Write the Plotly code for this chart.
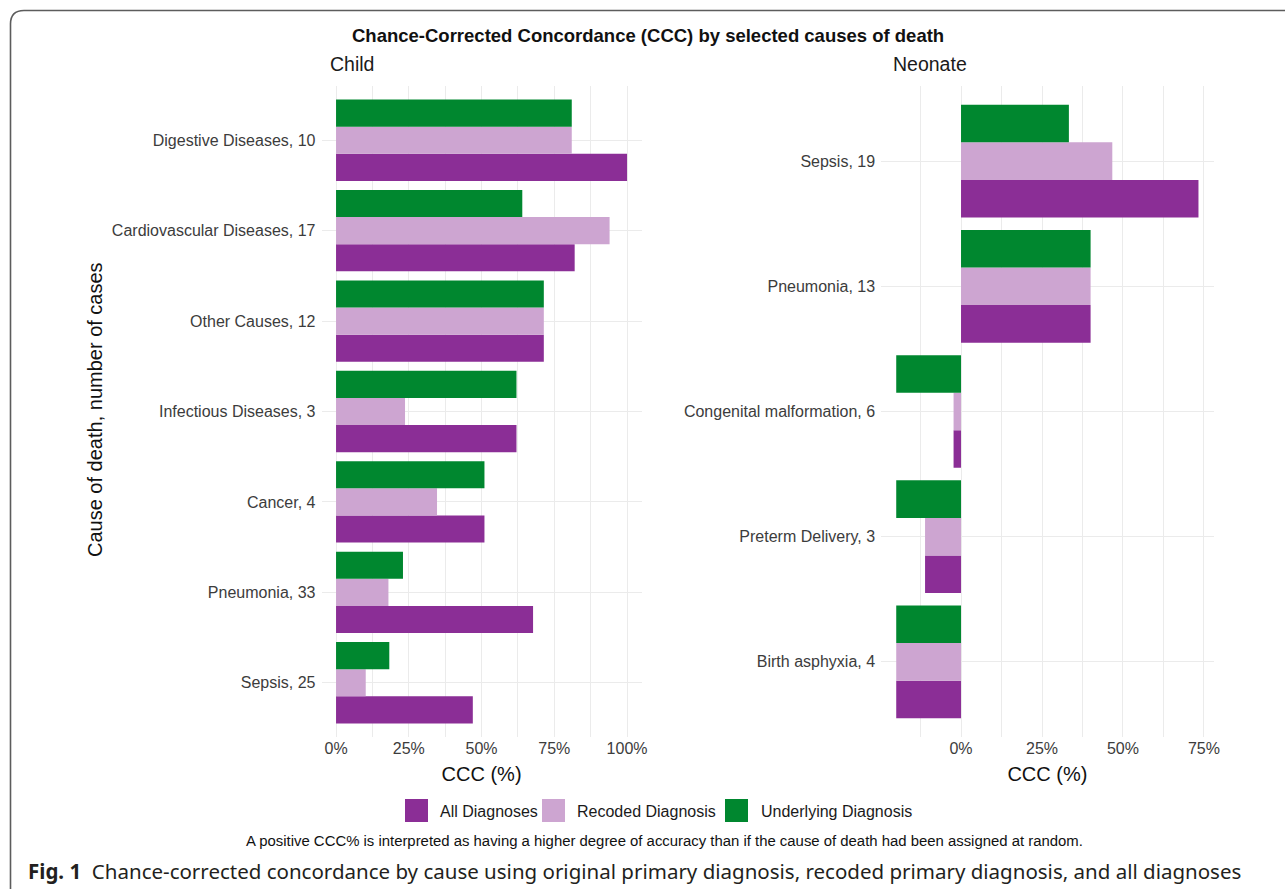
import plotly.graph_objects as go

W, H = 1285, 889

# ---------------- data ----------------
child_causes = ["Digestive Diseases, 10", "Cardiovascular Diseases, 17", "Other Causes, 12",
                "Infectious Diseases, 3", "Cancer, 4", "Pneumonia, 33", "Sepsis, 25"]
child_all = [100, 82, 71.4, 62, 51, 67.7, 47]
child_recoded = [81, 94, 71.4, 23.7, 34.7, 18, 10.2]
child_underlying = [81, 64, 71.4, 62, 51, 23, 18.3]

neo_causes = ["Sepsis, 19", "Pneumonia, 13", "Congenital malformation, 6",
              "Preterm Delivery, 3", "Birth asphyxia, 4"]
neo_all = [73.3, 40, -2.3, -11.1, -20]
neo_recoded = [46.7, 40, -2.3, -11.1, -20]
neo_underlying = [33.3, 40, -20, -20, -20]

series_names = ["All Diagnoses", "Recoded Diagnosis", "Underlying Diagnosis"]
series_colors = ["#8B2E96", "#CDA5D1", "#00872F"]

child_ticks = [0, 25, 50, 75, 100]
neo_ticks = [0, 25, 50, 75]

# ---------------- helpers ----------------
def px(x):
    return x / W

def py(y):
    return 1 - y / H

fig = go.Figure()

child_series = [child_all, child_recoded, child_underlying]
neo_series = [neo_all, neo_recoded, neo_underlying]
for name, col, vals in zip(series_names, series_colors, child_series):
    fig.add_trace(go.Bar(x=vals, y=child_causes, orientation="h", name=name,
                         marker=dict(color=col, line=dict(width=0)),
                         xaxis="x", yaxis="y", showlegend=False))
for name, col, vals in zip(series_names, series_colors, neo_series):
    fig.add_trace(go.Bar(x=vals, y=neo_causes, orientation="h", name=name,
                         marker=dict(color=col, line=dict(width=0)),
                         xaxis="x2", yaxis="y2", showlegend=False))

grid = "#EBEBEB"
tickfont = dict(family="Liberation Sans, Arial, sans-serif", size=16, color="#3c3c3c")
titlefont = dict(family="Liberation Sans, Arial, sans-serif", size=20, color="#111111")
ydom = [py(737), py(86)]

def xaxis_cfg(domain, rng, ticks, anchor):
    return dict(domain=domain, range=rng, anchor=anchor,
                tickmode="array", tickvals=ticks, ticktext=[f"{t}%" for t in ticks],
                showgrid=True, gridcolor=grid, gridwidth=1.4, zeroline=False,
                showline=False, ticks="", tickfont=tickfont, automargin=False,
                minor=dict(tickmode="linear", tick0=0, dtick=12.5, showgrid=True,
                           gridcolor=grid, gridwidth=1.4, ticks=""),
                title=dict(text="CCC (%)", font=titlefont, standoff=10))

def yaxis_cfg(cats, anchor):
    n = len(cats)
    return dict(domain=ydom, anchor=anchor, type="category",
                categoryorder="array", categoryarray=list(reversed(cats)),
                range=[-0.6, n - 0.4], showgrid=True, gridcolor=grid, gridwidth=1.4,
                zeroline=False, showline=False, ticks="", tickfont=tickfont,
                automargin=False, ticklabelstandoff=5)

fig.update_layout(
    width=W, height=H,
    margin=dict(l=0, r=0, t=0, b=0),
    paper_bgcolor="white", plot_bgcolor="white",
    barmode="group", bargap=0.1, bargroupgap=0,
    xaxis=xaxis_cfg([px(321.5), px(641.6)], [-5, 105], child_ticks, "y"),
    yaxis=yaxis_cfg(child_causes, "x"),
    xaxis2=xaxis_cfg([px(881.1), px(1213.7)], [-24.67, 78.0], neo_ticks, "y2"),
    yaxis2=yaxis_cfg(neo_causes, "x2"),
    showlegend=False,
)

ann = []
ann.append(dict(text="<b>Chance-Corrected Concordance (CCC) by selected causes of death</b>",
                x=px(648), y=py(35), xref="paper", yref="paper", showarrow=False,
                xanchor="center", yanchor="middle",
                font=dict(family="Liberation Sans, Arial, sans-serif", size=18.5, color="#111111")))
for label, xp in [("Child", 328), ("Neonate", 891)]:
    ann.append(dict(text=label, x=px(xp), y=py(64), xref="paper", yref="paper",
                    showarrow=False, xanchor="left", yanchor="middle",
                    font=dict(family="Liberation Sans, Arial, sans-serif", size=19.5, color="#1a1a1a")))
ann.append(dict(text="Cause of death, number of cases", x=px(95), y=py(410),
                xref="paper", yref="paper", showarrow=False, textangle=-90,
                xanchor="center", yanchor="middle", font=titlefont))
ann.append(dict(text="A positive CCC% is interpreted as having a higher degree of accuracy than if the cause of death had been assigned at random.",
                x=px(664), y=py(841), xref="paper", yref="paper", showarrow=False,
                xanchor="center", yanchor="middle",
                font=dict(family="Liberation Sans, Arial, sans-serif", size=14.9, color="#111111")))
ann.append(dict(text="<b>Fig. 1</b>\u00a0\u00a0Chance-corrected concordance by cause using original primary diagnosis, recoded primary diagnosis, and all diagnoses",
                x=px(26), y=py(871), xref="paper", yref="paper", showarrow=False,
                xanchor="left", yanchor="middle",
                font=dict(family="Noto Sans, Open Sans, sans-serif", size=20.5, color="#231F20")))

# legend (manual keys)
shapes = []
legend_items = [(405, 438), (542, 575), (725, 759)]
for (sx, tx), name, col in zip(legend_items, series_names, series_colors):
    shapes.append(dict(type="rect", xref="paper", yref="paper",
                       x0=px(sx), x1=px(sx + 23), y0=py(822), y1=py(799),
                       fillcolor=col, line=dict(width=0)))
    ann.append(dict(text=name, x=px(tx), y=py(811), xref="paper", yref="paper",
                    showarrow=False, xanchor="left", yanchor="middle",
                    font=dict(family="Liberation Sans, Arial, sans-serif", size=16, color="#1a1a1a")))

# rounded frame (top-left corner)
path = (f"M {px(10.5)},{py(895)} L {px(10.5)},{py(24)} "
        f"Q {px(10.5)},{py(10.5)} {px(24)},{py(10.5)} L {px(1290)},{py(10.5)}")
shapes.append(dict(type="path", path=path, xref="paper", yref="paper",
                   line=dict(color="#5c5c5c", width=1.6)))

fig.update_layout(annotations=ann, shapes=shapes)
fig.write_html("out.html", config={"displayModeBar": False},
               post_script="document.body.style.margin='0';document.body.style.overflow='hidden';")
